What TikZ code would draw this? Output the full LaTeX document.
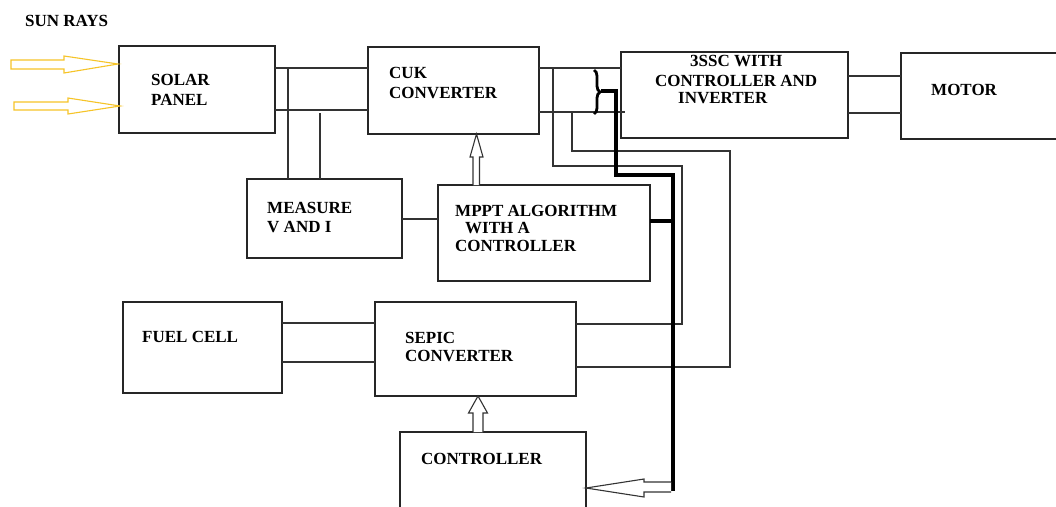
\documentclass[tikz,border=0pt]{standalone}
\usepackage{fontspec}
\setmainfont{Liberation Serif}
\usetikzlibrary{decorations.pathreplacing,calc}
\definecolor{ray}{RGB}{246,196,40}
\tikzset{
  box/.style={draw=black!85, line width=1.2pt, inner sep=0pt, outer sep=0pt},
  lbl/.style={font=\bfseries\fontsize{17}{20}\selectfont, anchor=base west, inner sep=0pt},
  wire/.style={draw=black!80, line width=1.1pt},
  heavy/.style={draw=black, line width=4.5pt, line join=miter},
  hollow/.style={draw=black!80, line width=1.1pt, fill=white, line join=miter},
  sunray/.style={draw=ray, line width=1.1pt, fill=white, line join=miter}
}
\begin{document}
\begin{tikzpicture}[x=1pt,y=-1pt]
\useasboundingbox (0,0) rectangle (1056,506);
\clip (0,0) rectangle (1056,506);
\fill[white] (0,0) rectangle (1056,506);
% boxes
\node[box, minimum width=156pt, minimum height=87pt] (solar) at (197,89.5) {};
\node[box, minimum width=171pt, minimum height=87pt] (cuk) at (453.5,90.5) {};
\node[box, minimum width=227pt, minimum height=86pt] (sssc) at (734.5,95) {};
\node[box, minimum width=169pt, minimum height=86pt] (motor) at (985.5,96) {};
\node[box, minimum width=155pt, minimum height=79pt] (measure) at (324.5,218.5) {};
\node[box, minimum width=212pt, minimum height=96pt] (mppt) at (544,233) {};
\node[box, minimum width=159pt, minimum height=91pt] (fuel) at (202.5,347.5) {};
\node[box, minimum width=201pt, minimum height=94pt] (sepic) at (475.5,349) {};
\node[box, minimum width=186pt, minimum height=88pt] (ctrl) at (493,476) {};
% labels
\node[lbl] (tsun) at (25,27) {SUN RAYS};
\node[lbl] (tsolar1) at (151,85) {SOLAR};
\node[lbl] (tsolar2) at (151,105) {PANEL};
\node[lbl] (tcuk1) at (389,78) {CUK};
\node[lbl] (tcuk2) at (389,98) {CONVERTER};
\node[lbl] (tsssc1) at (690,66) {3SSC WITH};
\node[lbl] (tsssc2) at (655,86) {CONTROLLER AND};
\node[lbl] (tsssc3) at (678,103) {INVERTER};
\node[lbl] (tmotor) at (931,95) {MOTOR};
\node[lbl] (tmeas1) at (267,213) {MEASURE};
\node[lbl] (tmeas2) at (267,232) {V AND I};
\node[lbl] (tmppt1) at (455,216) {MPPT ALGORITHM};
\node[lbl] (tmppt2) at (465,233) {WITH A};
\node[lbl] (tmppt3) at (455,251) {CONTROLLER};
\node[lbl] (tfuel) at (142,342) {FUEL CELL};
\node[lbl] (tsepic1) at (405,343) {SEPIC};
\node[lbl] (tsepic2) at (405,361) {CONVERTER};
\node[lbl] (tctrl) at (421,464) {CONTROLLER};
% level coordinates
\coordinate (y68) at (0,68);
\coordinate (y110) at (0,110);
\coordinate (y112) at (0,112);
\coordinate (y76) at (0,76);
\coordinate (y113) at (0,113);
\coordinate (y219) at (0,219);
\coordinate (y221) at (0,221);
\coordinate (y323) at (0,323);
\coordinate (y362) at (0,362);
\coordinate (y324) at (0,324);
\coordinate (y367) at (0,367);
% solar -> cuk
\draw[wire] (solar.east |- y68) -- (cuk.west |- y68);
\draw[wire] (solar.east |- y110) -- (cuk.west |- y110);
% taps to measure
\coordinate (m1) at (288,68);
\coordinate (m2) at (320,113);
\draw[wire] (m1) -- (m1 |- measure.north);
\draw[wire] (m2) -- (m2 |- measure.north);
% measure -> mppt
\draw[wire] (measure.east |- y219) -- (mppt.west |- y219);
% cuk -> 3ssc
\draw[wire] (cuk.east |- y68) -- (sssc.west |- y68);
\draw[wire] (cuk.east |- y112) -- ([xshift=4pt]sssc.west |- y112);
% 3ssc -> motor
\draw[wire] (sssc.east |- y76) -- (motor.west |- y76);
\draw[wire] (sssc.east |- y113) -- (motor.west |- y113);
% fuel -> sepic
\draw[wire] (fuel.east |- y323) -- (sepic.west |- y323);
\draw[wire] (fuel.east |- y362) -- (sepic.west |- y362);
% sepic outputs to dc link
\coordinate (t1) at (553,68);
\coordinate (t2) at (572,112);
\draw[wire] (t1) -- (553,166) -- (682,166) -- (682,324) -- (sepic.east |- y324);
\draw[wire] (t2) -- (572,151) -- (730,151) -- (730,367) -- (sepic.east |- y367);
% brace
\draw[decorate, decoration={brace, amplitude=6pt}, line width=2.8pt] (594,70) -- (594,114);
% heavy feedback line
\coordinate (bt) at (601,91);
\coordinate (hb) at (673,491);
\draw[heavy] (bt) -- (616,91) -- (616,175) -- (673,175) -- (hb);
\draw[heavy] (mppt.east |- y221) -- (673,221);
% hollow arrow mppt -> cuk
\draw[hollow] (473,185) -- (473,157) -- (470,157) -- (476.5,134) -- (483,157) -- (479.5,157) -- (479.5,185);
% hollow arrow controller -> sepic
\draw[hollow] (473,432) -- (473,413) -- (468.5,413) -- (478,396) -- (487.5,413) -- (483,413) -- (483,432);
% hollow arrow heavy line -> controller
\draw[hollow] (671,482) -- (644,482) -- (644,479) -- (586,488) -- (644,497) -- (644,492) -- (671,492);
% sun rays
\draw[sunray] (11,60) -- (64,60) -- (64,56) -- (118,64) -- (64,73) -- (64,69) -- (11,69) -- cycle;
\draw[sunray] (14,102) -- (68,102) -- (68,98) -- (120,106) -- (68,114) -- (68,110) -- (14,110) -- cycle;
\end{tikzpicture}
\end{document}
